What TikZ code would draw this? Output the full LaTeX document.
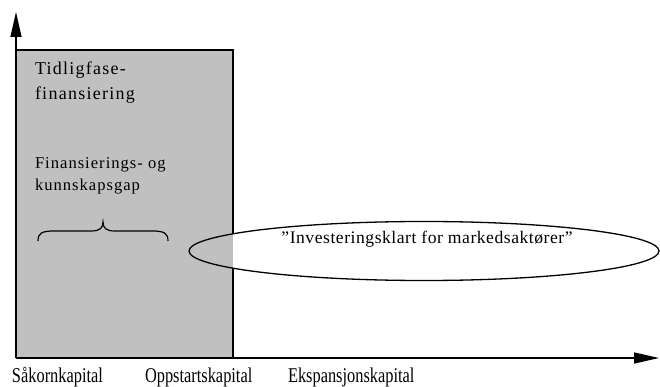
\documentclass[tikz,border=0pt]{standalone}
\usepackage{fontspec}
\setmainfont{Liberation Serif}
\newfontfamily\narrowserif[FakeStretch=0.78]{Liberation Serif}
\newfontfamily\spacedA[LetterSpace=7]{Liberation Serif}
\newfontfamily\spacedB[LetterSpace=6]{Liberation Serif}
\newfontfamily\spacedC[LetterSpace=3]{Liberation Serif}
\usetikzlibrary{shapes.geometric,arrows.meta}
\definecolor{boxgray}{HTML}{C0C0C0}
\tikzset{
  axisline/.style={line width=1.4pt,-{Triangle[length=25pt,width=11pt]}},
  edge/.style={line width=1.3pt},
  lbl/.style={anchor=base west,inner sep=0pt,outer sep=0pt},
  axislbl/.style={lbl,font=\narrowserif\fontsize{21}{24}\selectfont},
  phase/.style={lbl,align=left,font=\spacedA\fontsize{18}{25}\selectfont},
  gap/.style={lbl,align=left,font=\spacedB\fontsize{16.6}{21}\selectfont},
  bubble/.style={draw,line width=1.3pt,ellipse,inner sep=0pt,minimum width=470pt,minimum height=59pt},
  bubbletext/.style={anchor=base,inner sep=0pt,font=\spacedC\fontsize{17.6}{20}\selectfont},
}
\begin{document}
\begin{tikzpicture}[x=1pt,y=-1pt]
\useasboundingbox (0,0) rectangle (660,387);
% shaded box
\coordinate (boxbl) at (16,358);
\coordinate (boxtl) at (16,50);
\coordinate (boxtr) at (233,50);
\coordinate (boxbr) at (233,358);
\fill[boxgray] (boxbl) rectangle (boxtr);
% ellipse
\node[bubble] (ell) at (424,251) {};
\coordinate (gaptop) at (233,233.8);
\coordinate (gapbot) at (233,268.2);
\draw[edge] (boxtl) -- (boxtr) -- (gaptop);
\draw[edge] (gapbot) -- (boxbr);
\node[bubbletext] (elltext) at (427,243) {”Investeringsklart for markedsaktører”};
% axes
\coordinate (origin) at (16,358);
\coordinate (ytip) at (16,12);
\coordinate (xtip) at (659,358);
\draw[axisline] (origin) -- (ytip);
\draw[axisline] (origin) -- (xtip);
% texts (base anchor = last line)
\node[phase] (phase) at (35,100) {Tidligfase-\\finansiering};
\node[gap] (gaptext) at (35,190) {Finansierings- og\\kunnskapsgap};
% brace
\coordinate (brl) at (38,241);
\coordinate (brtip) at (103,222);
\coordinate (brr) at (168,241);
\draw[line width=1.2pt] (brl) .. controls (38,233) and (42,231) .. (54,231) -- (91,231)
  .. controls (100,231) and (103,228) .. (brtip)
  .. controls (103,228) and (106,231) .. (115,231) -- (152,231)
  .. controls (164,231) and (168,233) .. (brr);
% axis labels
\node[axislbl] (seed) at (12,382) {Såkornkapital};
\node[axislbl] (start) at (145,382) {Oppstartskapital};
\node[axislbl] (exp) at (288,382) {Ekspansjonskapital};
\end{tikzpicture}
\end{document}
